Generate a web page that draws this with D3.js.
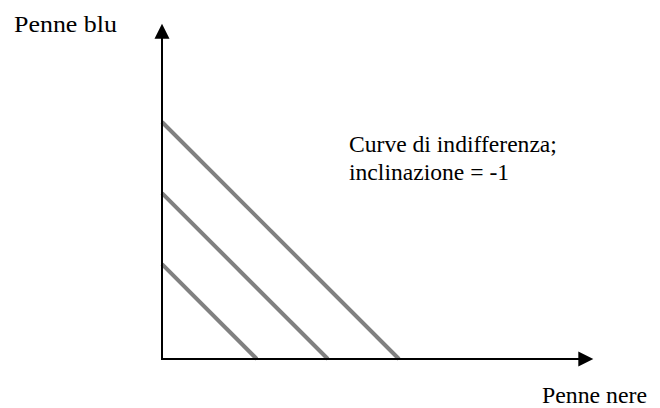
<!DOCTYPE html>
<html>
<head>
<meta charset="utf-8">
<script src="https://cdn.jsdelivr.net/npm/d3@7"></script>
<style>
  html, body { margin: 0; padding: 0; background: #fff; }
  svg { display: block; }
</style>
</head>
<body>
<script>
// Indifference curves for perfect substitutes: quantity of blue pens vs black pens
const curveIntercepts = [4, 7, 10];          // each curve: x + y = k
const xAxisLabel = "Penne nere";
const yAxisLabel = "Penne blu";
const noteLines = ["Curve di indifferenza;", "inclinazione = -1"];
const axisMax = { x: 18.2, y: 14.15 };

const W = 660, H = 408;
const origin = { x: 162, y: 359 };
const unit = 23.7;
const serif = "'Liberation Serif', 'Times New Roman', Times, 'DejaVu Serif', serif";

const svg = d3.select("body").append("svg")
  .attr("width", W).attr("height", H);

const x = d3.scaleLinear().domain([0, 1]).range([origin.x, origin.x + unit]);
const y = d3.scaleLinear().domain([0, 1]).range([origin.y, origin.y - unit]);

// Indifference lines
const line = d3.line().x(d => x(d[0])).y(d => y(d[1]));
svg.append("g").selectAll("path")
  .data(curveIntercepts)
  .join("path")
  .attr("d", k => line([[0, k], [k, 0]]))
  .attr("fill", "none")
  .attr("stroke", "#808080")
  .attr("stroke-width", 4)
  .attr("stroke-linecap", "butt");

// Axes with arrowheads
const axes = svg.append("g");
axes.append("line")
  .attr("x1", x(0)).attr("y1", y(0))
  .attr("x2", x(0)).attr("y2", y(axisMax.y) + 12)
  .attr("stroke", "#000").attr("stroke-width", 2);
axes.append("line")
  .attr("x1", x(0) - 1).attr("y1", y(0))
  .attr("x2", x(axisMax.x) - 12).attr("y2", y(0))
  .attr("stroke", "#000").attr("stroke-width", 2);

const yTip = [x(0), y(axisMax.y)];
axes.append("path")
  .attr("d", `M${yTip[0]},${yTip[1]} L${yTip[0] + 7.5},${yTip[1] + 15} L${yTip[0] - 7.5},${yTip[1] + 15} Z`)
  .attr("fill", "#000");
const xTip = [x(axisMax.x), y(0)];
axes.append("path")
  .attr("d", `M${xTip[0]},${xTip[1]} L${xTip[0] - 15},${xTip[1] - 7.5} L${xTip[0] - 15},${xTip[1] + 7.5} Z`)
  .attr("fill", "#000");

// Labels
const labels = svg.append("g")
  .attr("font-family", serif)
  .attr("fill", "#000");

labels.append("text")
  .attr("x", 14).attr("y", 32)
  .attr("font-size", 24)
  .attr("textLength", 103).attr("lengthAdjust", "spacingAndGlyphs")
  .text(yAxisLabel);

labels.append("text")
  .attr("x", 542).attr("y", 403)
  .attr("font-size", 23.8)
  .text(xAxisLabel);

labels.append("g").selectAll("text")
  .data(noteLines)
  .join("text")
  .attr("x", 349)
  .attr("y", (d, i) => 152 + i * 28)
  .attr("font-size", 23.6)
  .text(d => d);
</script>
</body>
</html>
